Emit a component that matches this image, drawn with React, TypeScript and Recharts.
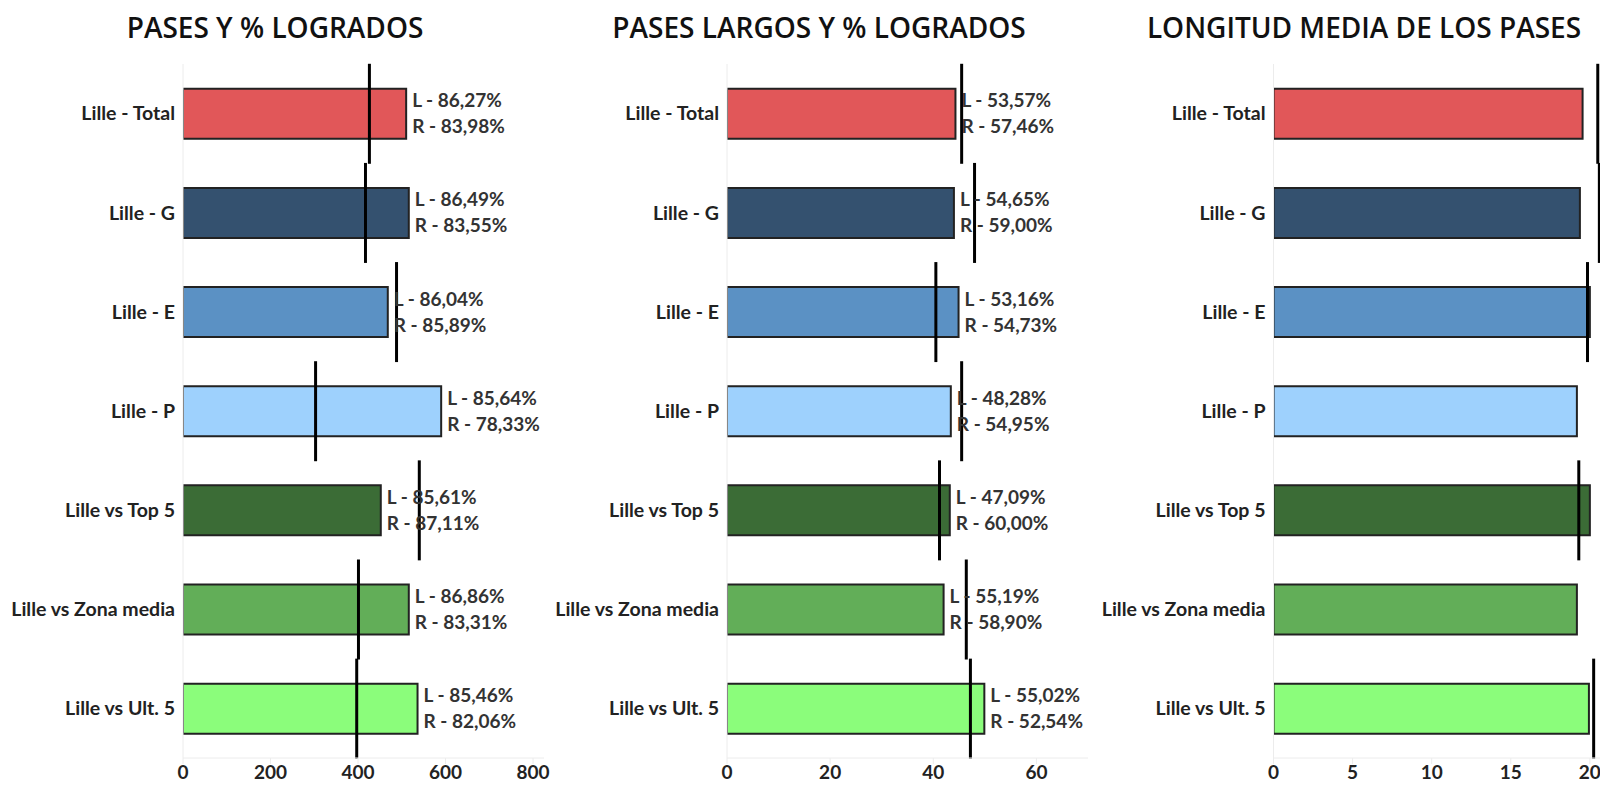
import { Bar, BarChart, Cell, LabelList, XAxis, YAxis } from "recharts";

const categories = [
  "Lille - Total",
  "Lille - G",
  "Lille - E",
  "Lille - P",
  "Lille vs Top 5",
  "Lille vs Zona media",
  "Lille vs Ult. 5",
];
const barColors = ["#E15759", "#34516F", "#5B91C4", "#9ED1FD", "#3B6C36", "#62AE58", "#8BFD7B"];

// pases
const passes = [510, 516, 468, 590, 452, 516, 536];
const passesRef = [426, 417, 488, 303, 540, 401, 397];
const passesL = ["86,27%", "86,49%", "86,04%", "85,64%", "85,61%", "86,86%", "85,46%"];
const passesR = ["83,98%", "83,55%", "85,89%", "78,33%", "87,11%", "83,31%", "82,06%"];
const passTicks = [0, 200, 400, 600, 800];

// pases largos
const longPasses = [44.3, 44.0, 44.9, 43.4, 43.2, 42.0, 49.9];
const longRef = [45.5, 48.0, 40.5, 45.5, 41.2, 46.4, 47.2];
const longL = ["53,57%", "54,65%", "53,16%", "48,28%", "47,09%", "55,19%", "55,02%"];
const longR = ["57,46%", "59,00%", "54,73%", "54,95%", "60,00%", "58,90%", "52,54%"];
const longTicks = [0, 20, 40, 60];

// longitud media
const avgLen = [19.54, 19.37, 20.0, 19.18, 20.0, 19.18, 19.94];
const avgLenRef = [20.5, 20.6, 19.85, 21.0, 19.3, 21.0, 20.24];
const lenTicks = [0, 5, 10, 15, 20];

const FONT = "Lato, sans-serif";
const INK = "#222";
const AXIS = "#ececec";

function RefMark(p: any) {
  const x = p.x + p.width;
  return <line x1={x} x2={x} y1={p.y - p.height / 2} y2={p.y + p.height * 1.5} stroke="#000" strokeWidth={3} />;
}

function Panel({
  title,
  titleCenter,
  left,
  width,
  yWidth,
  right,
  values,
  refs,
  labelsL,
  labelsR,
  domain,
  ticks,
}: {
  title: string;
  titleCenter: number;
  left: number;
  width: number;
  yWidth: number;
  right: number;
  values: number[];
  refs: number[];
  labelsL?: string[];
  labelsR?: string[];
  domain: [number, number];
  ticks: number[];
}) {
  const data = categories.map((name, i) => ({ name, value: values[i], target: refs[i] }));
  const yTick = { fontFamily: FONT, fontWeight: 700, fontSize: 19.5, fill: INK };
  const xTick = { fontFamily: FONT, fontWeight: 700, fontSize: 19, fill: INK };

  return (
    <>
      <div
        style={{
          position: "absolute",
          top: 8,
          left: titleCenter - 300,
          width: 600,
          textAlign: "center",
          fontFamily: "'Open Sans', sans-serif",
          fontWeight: 600,
          fontSize: 28,
          lineHeight: "38px",
          color: "#111",
          whiteSpace: "nowrap",
        }}
      >
        {title}
      </div>
      <div style={{ position: "absolute", top: 0, left }}>
        <BarChart
          width={width}
          height={787}
          data={data}
          layout="vertical"
          barCategoryGap="25%"
          margin={{ top: 64, right, bottom: 0, left: 0 }}
        >
          <XAxis
            type="number"
            domain={domain}
            ticks={ticks}
            allowDataOverflow
            height={29}
            axisLine={{ stroke: AXIS }}
            tickLine={{ stroke: AXIS }}
            tick={xTick}
          />
          <YAxis
            type="category"
            dataKey="name"
            width={yWidth}
            axisLine={{ stroke: AXIS }}
            tickLine={false}
            tick={yTick}
          />
          <YAxis yAxisId="tgt" type="category" dataKey="name" hide />
          <Bar dataKey="value" stroke="#222" strokeWidth={2} isAnimationActive={false}>
            {data.map((d, i) => (
              <Cell key={d.name} fill={barColors[i]} />
            ))}
            {labelsL && labelsR && (
              <LabelList
                dataKey="value"
                content={(p: any) => {
                  const x = p.x + p.width + 6;
                  const cy = p.y + p.height / 2;
                  return (
                    <g style={{ fontFamily: FONT, fontWeight: 700, fontSize: 19 }} fill="#333">
                      <text x={x} y={cy - 14} dominantBaseline="central">
                        {"L - " + labelsL[p.index]}
                      </text>
                      <text x={x} y={cy + 12} dominantBaseline="central">
                        {"R - " + labelsR[p.index]}
                      </text>
                    </g>
                  );
                }}
              />
            )}
          </Bar>
          <Bar dataKey="target" yAxisId="tgt" fill="none" shape={RefMark} isAnimationActive={false} />
        </BarChart>
      </div>
    </>
  );
}

export default function App() {
  return (
    <div
      style={{
        position: "fixed",
        top: 0,
        left: 0,
        width: 1600,
        height: 787,
        overflow: "hidden",
        background: "#fff",
      }}
    >
      <Panel
        title="PASES Y % LOGRADOS"
        titleCenter={275}
        left={0}
        width={560}
        yWidth={183}
        right={16}
        values={passes}
        refs={passesRef}
        labelsL={passesL}
        labelsR={passesR}
        domain={[0, 825]}
        ticks={passTicks}
      />
      <Panel
        title="PASES LARGOS Y % LOGRADOS"
        titleCenter={819}
        left={540}
        width={560}
        yWidth={187}
        right={12}
        values={longPasses}
        refs={longRef}
        labelsL={longL}
        labelsR={longR}
        domain={[0, 70]}
        ticks={longTicks}
      />
      <Panel
        title="LONGITUD MEDIA DE LOS PASES"
        titleCenter={1364}
        left={1085}
        width={536.5}
        yWidth={188.5}
        right={0}
        values={avgLen}
        refs={avgLenRef}
        domain={[0, 22]}
        ticks={lenTicks}
      />
    </div>
  );
}
